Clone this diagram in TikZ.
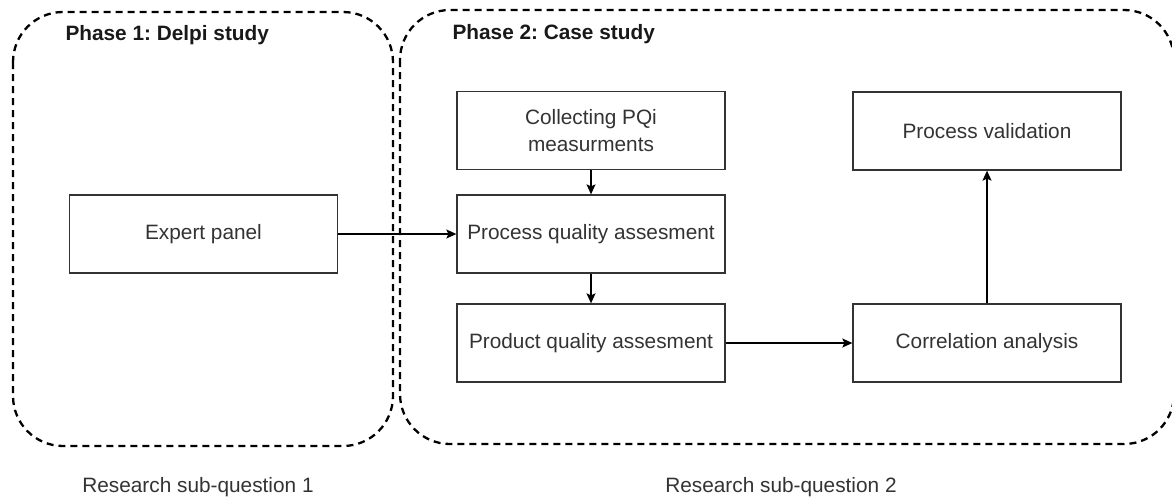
\documentclass[tikz,border=0pt]{standalone}
\usepackage{fontspec}
\setmainfont{Liberation Sans}
\usetikzlibrary{arrows.meta}
\definecolor{ink}{HTML}{333333}
\frenchspacing
\begin{document}
\begin{tikzpicture}[x=1pt,y=-1pt,
  font=\fontsize{20.8}{26.5}\selectfont,
  phasebox/.style={draw=black, line width=2.3pt, dash pattern=on 7pt off 5pt, rounded corners=50pt},
  stepbox/.style={draw=ink, line width=1.3pt, minimum width=268pt, minimum height=78pt,
    text=ink, align=center, inner sep=0pt},
  flow/.style={draw=black, line width=1.3pt, -{Stealth[length=10pt,width=9pt,inset=2pt]}},
  caption/.style={text=ink, anchor=base},
  title/.style={font=\fontsize{20.8}{26}\selectfont\bfseries, text=black!90, anchor=base west}
]
\useasboundingbox (0,0) rectangle (1172,499);
\clip (0,0) rectangle (1172,499);

% phase containers
\draw[phasebox] (13,12) rectangle (393,446);
\draw[phasebox] (400,10) rectangle (1174,444);
\node[title] (t1) at (62,40) {Phase 1: Delpi study};
\node[title] (t2) at (449,39) {Phase 2: Case study};

% steps
\node[stepbox] (expert)  at (203.5,234) {Expert panel};
\node[stepbox] (collect) at (591,130.5) {Collecting PQi\\measurments};
\node[stepbox] (procq)   at (591,234) {Process quality assesment};
\node[stepbox] (prodq)   at (591,343) {Product quality assesment};
\node[stepbox] (valid)   at (987,131) {Process validation};
\node[stepbox] (corr)    at (987,343) {Correlation analysis};

% connectors
\draw[flow] (expert.east) -- (procq.west);
\draw[flow] (collect.south) -- (procq.north);
\draw[flow] (procq.south) -- (prodq.north);
\draw[flow] (prodq.east) -- (corr.west);
\draw[flow] (corr.north) -- (valid.south);

% research questions
\node[caption] (rq1) at (198,492) {Research sub-question 1};
\node[caption] (rq2) at (781,492) {Research sub-question 2};
\end{tikzpicture}
\end{document}
